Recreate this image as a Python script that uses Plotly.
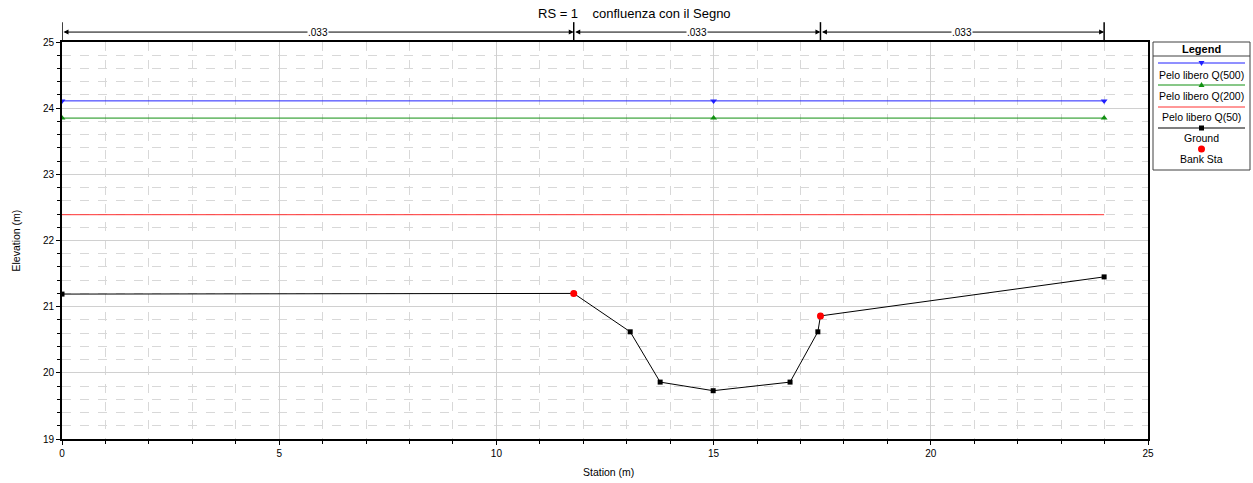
import plotly.graph_objects as go

# ---- data ----
ground_x = [0.0, 11.78, 13.08, 13.77, 14.99, 16.76, 17.40, 17.46, 23.99]
ground_y = [21.19, 21.20, 20.62, 19.86, 19.73, 19.86, 20.62, 20.86, 21.45]
bank_x = [11.78, 17.46]
bank_y = [21.20, 20.86]
ws_x = [0.0, 15.0, 23.99]
ws500 = [24.11, 24.11, 24.11]
ws200 = [23.85, 23.85, 23.85]
ws50_x = [0.0, 23.99]
ws50 = [22.39, 22.39]
n_values = [".033", ".033", ".033"]
n_bounds = [0.0, 11.78, 17.46, 23.99]

BLUE = "#2020ff"
GREEN = "#109010"
RED = "#ff3030"
FONT = "Liberation Sans, Arial, sans-serif"

fig = go.Figure()
fig.add_trace(go.Scatter(x=ws_x, y=ws500, mode="lines+markers", line=dict(color=BLUE, width=1),
                         marker=dict(symbol="triangle-down", size=6, color=BLUE), showlegend=False))
fig.add_trace(go.Scatter(x=ws_x, y=ws200, mode="lines+markers", line=dict(color=GREEN, width=1),
                         marker=dict(symbol="triangle-up", size=6, color=GREEN), showlegend=False))
fig.add_trace(go.Scatter(x=ws50_x, y=ws50, mode="lines", line=dict(color=RED, width=1), showlegend=False))
fig.add_trace(go.Scatter(x=ground_x, y=ground_y, mode="lines+markers", line=dict(color="black", width=1),
                         marker=dict(symbol="square", size=5, color="black"), showlegend=False))
fig.add_trace(go.Scatter(x=bank_x, y=bank_y, mode="markers",
                         marker=dict(symbol="circle", size=7, color="red"), showlegend=False))

shapes = []
annotations = []

def py(pix):
    return (439 - pix) / 397.0
def px(pix):
    return (pix - 62) / 1086.0

# Manning's n zones above the plot
y_arrow = 1.025
for i in range(len(n_values)):
    x0, x1 = n_bounds[i], n_bounds[i + 1]
    annotations.append(dict(x=x1, y=y_arrow, ax=x0, ay=0, xref="x", yref="paper", axref="x", ayref="pixel",
                            text="", showarrow=True, arrowhead=2, arrowside="end+start", arrowsize=1,
                            arrowwidth=1, arrowcolor="black", standoff=0, startstandoff=0))
    annotations.append(dict(x=(x0 + x1) / 2, y=y_arrow, xref="x", yref="paper", text=n_values[i],
                            showarrow=False, bgcolor="white", font=dict(size=10, color="black", family=FONT),
                            borderpad=0, xanchor="center", yanchor="middle"))
for b in n_bounds:
    shapes.append(dict(type="line", xref="x", yref="paper", x0=b, x1=b, y0=1.0, y1=1.05,
                       line=dict(color="black", width=1.5)))

annotations.append(dict(x=0.5276, y=1.073, xref="paper", yref="paper",
                        text="RS = 1    confluenza con il Segno", showarrow=False,
                        font=dict(size=13, color="black", family=FONT), xanchor="center", yanchor="middle"))

# axis titles
annotations.append(dict(x=px(15.5), y=py(241), xref="paper", yref="paper", text="Elevation (m)",
                        textangle=-90, showarrow=False, font=dict(size=10.5, color="black", family=FONT),
                        xanchor="center", yanchor="middle"))
annotations.append(dict(x=px(608), y=py(472), xref="paper", yref="paper", text="Station (m)",
                        showarrow=False, font=dict(size=10.5, color="black", family=FONT),
                        xanchor="center", yanchor="middle"))

# Custom legend box (paper coords)
lx0, lx1 = px(1153), px(1250)
lxc = (lx0 + lx1) / 2
shapes.append(dict(type="rect", xref="paper", yref="paper", x0=lx0, x1=lx1, y0=py(170), y1=py(42),
                   line=dict(color="#404040", width=1), fillcolor="white"))
shapes.append(dict(type="line", xref="paper", yref="paper", x0=lx0, x1=lx1, y0=py(56), y1=py(56),
                   line=dict(color="#404040", width=1)))
annotations.append(dict(x=lxc, y=py(49), xref="paper", yref="paper", text="<b>Legend</b>", showarrow=False,
                        font=dict(size=11, color="black", family=FONT), xanchor="center", yanchor="middle"))
items = [("Pelo libero Q(500)", BLUE, 63, 74.5), ("Pelo libero Q(200)", GREEN, 85, 95.5),
         ("Pelo libero Q(50)", RED, 107, 116.5), ("Ground", "black", 128, 138)]
for name, col, ly, ty in items:
    shapes.append(dict(type="line", xref="paper", yref="paper", x0=px(1158), x1=px(1245), y0=py(ly), y1=py(ly),
                       line=dict(color=col, width=1)))
    annotations.append(dict(x=lxc, y=py(ty), xref="paper", yref="paper", text=name, showarrow=False,
                            font=dict(size=10.5, color="black", family=FONT), xanchor="center", yanchor="middle"))
annotations.append(dict(x=lxc, y=py(159), xref="paper", yref="paper", text="Bank Sta", showarrow=False,
                        font=dict(size=10.5, color="black", family=FONT), xanchor="center", yanchor="middle"))
cx = 1201.5
# marker samples
shapes.append(dict(type="path", xref="paper", yref="paper",
                   path=f"M {px(cx-3)} {py(61)} L {px(cx+3)} {py(61)} L {px(cx)} {py(66)} Z",
                   fillcolor=BLUE, line=dict(width=0)))
shapes.append(dict(type="path", xref="paper", yref="paper",
                   path=f"M {px(cx-3)} {py(87)} L {px(cx+3)} {py(87)} L {px(cx)} {py(82)} Z",
                   fillcolor=GREEN, line=dict(width=0)))
shapes.append(dict(type="rect", xref="paper", yref="paper", x0=px(cx-2.5), x1=px(cx+2.5), y0=py(130.5), y1=py(125.5),
                   fillcolor="black", line=dict(width=0)))
shapes.append(dict(type="circle", xref="paper", yref="paper", x0=px(cx-3.5), x1=px(cx+3.5), y0=py(152.5), y1=py(145.5),
                   fillcolor="red", line=dict(width=0)))

axis_common = dict(showline=True, linecolor="black", linewidth=2, mirror=True, ticks="outside",
                   tickcolor="black", ticklen=4, tickfont=dict(size=10, color="black", family=FONT),
                   showgrid=True, gridcolor="#d0d0d0", gridwidth=1, zeroline=False, automargin=False)

fig.update_layout(
    width=1253, height=483,
    margin=dict(l=62, r=105, t=42, b=44),
    paper_bgcolor="white", plot_bgcolor="white",
    font=dict(family=FONT, color="black"),
    xaxis=dict(range=[0, 25], dtick=5, tick0=0,
               minor=dict(dtick=1, showgrid=True, griddash="dash", gridcolor="#d8d8d8", ticks="outside",
                          ticklen=3, tickcolor="black"),
               **axis_common),
    yaxis=dict(range=[19, 25], dtick=1, tick0=19,
               minor=dict(dtick=0.2, showgrid=True, griddash="dash", gridcolor="#d8d8d8", ticks="outside",
                          ticklen=3, tickcolor="black"),
               **axis_common),
    shapes=shapes,
    annotations=annotations,
    showlegend=False,
)

fig.write_html("out.html", config={"displayModeBar": False},
               post_script="document.body.style.margin='0';document.body.style.overflow='hidden';")
